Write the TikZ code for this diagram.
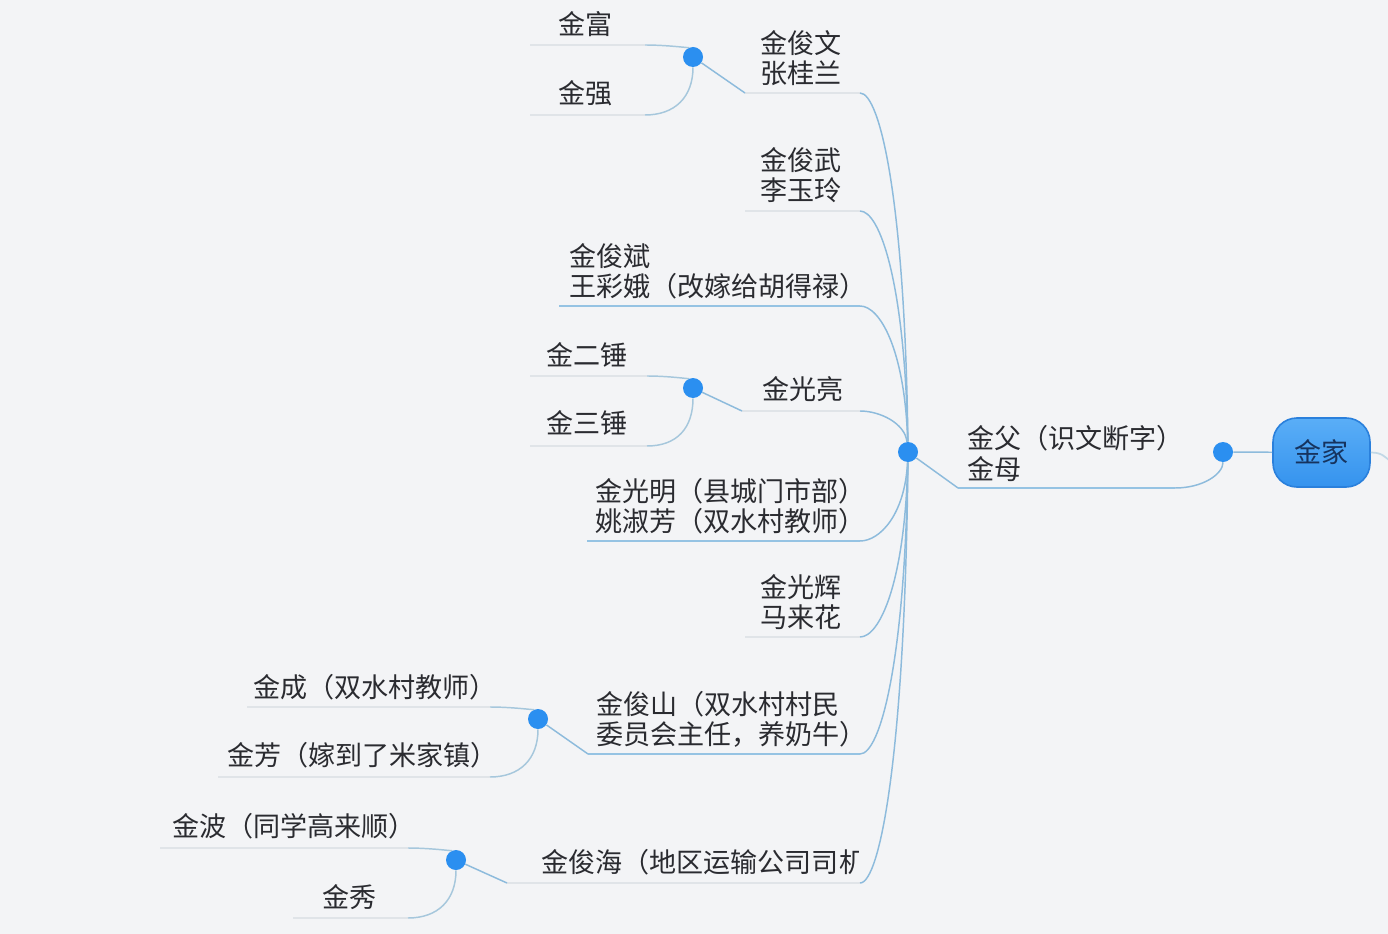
\documentclass[tikz,border=0pt]{standalone}
\usepackage{fontspec}
\usepackage{xcolor}
\usepackage{tikz}
\newfontfamily\cjk{Noto Sans CJK SC}
\definecolor{bg}{HTML}{F3F4F6}
\definecolor{ink}{HTML}{2A2B30}
\definecolor{dotblue}{HTML}{2B8FF0}
\definecolor{link}{HTML}{8DBBDC}
\definecolor{twig}{HTML}{A6C7DC}
\definecolor{ulblue}{HTML}{95C3E3}
\definecolor{ulgrey}{HTML}{E0E4E8}
\definecolor{rootlite}{HTML}{5AAEF7}
\definecolor{rootfill}{HTML}{3593EE}
\definecolor{rootedge}{HTML}{2A80DC}
\definecolor{rootink}{HTML}{16335E}
\tikzset{
  person/.style={inner sep=0pt, anchor=west, align=left, text=ink,
    font=\cjk\fontsize{20.3pt}{22.6pt}\selectfont},
  root/.style={rounded corners=18pt, draw=rootedge, line width=1.2pt,
    top color=rootlite, bottom color=rootfill, minimum width=72.75pt,
    minimum height=51.75pt, inner sep=0pt, text=rootink,
    font=\cjk\fontsize{20.3pt}{22.6pt}\selectfont},
  knot/.style={circle, fill=dotblue, inner sep=0pt, minimum size=15pt},
  link/.style={color=link, line width=1.1pt},
  twiglink/.style={color=twig, line width=1.1pt},
  ulb/.style={color=ulblue, line width=1.3pt},
  ulg/.style={color=ulgrey, line width=1.3pt},
}
\begin{document}
\begin{tikzpicture}[x=0.75pt,y=-0.75pt]
  \fill[bg] (0,0) rectangle (1388,934);
  \useasboundingbox (0,0) rectangle (1388,934);

  % root and parents
  \node[root] (jia) at (1321.5,452.5) {金家};
  \node[knot] (d-jia) at (1223,452) {};
  \node[person] (fumu) at (967,453.5) {金父（识文断字）\\金母};
  \coordinate (fumu-l) at (958,488);
  \coordinate (fumu-r) at (1175,488);
  \node[knot] (d-fumu) at (908,452) {};
  \coordinate (off) at (1392,462);

  % second generation
  \node[person] (wen) at (760,58) {金俊文\\张桂兰};
  \coordinate (wen-l) at (745,93);    \coordinate (wen-r) at (860,93);
  \node[person] (wu) at (760,175) {金俊武\\李玉玲};
  \coordinate (wu-l) at (745,211);    \coordinate (wu-r) at (860,211);
  \node[person] (bin) at (569,271) {金俊斌\\王彩娥（改嫁给胡得禄）};
  \coordinate (bin-l) at (559,306);   \coordinate (bin-r) at (860,306);
  \node[person] (liang) at (762,389) {金光亮};
  \coordinate (liang-l) at (742,411); \coordinate (liang-r) at (860,411);
  \node[person] (ming) at (595,506.5) {金光明（县城门市部）\\姚淑芳（双水村教师）};
  \coordinate (ming-l) at (587,541);  \coordinate (ming-r) at (860,541);
  \node[person] (hui) at (760,602) {金光辉\\马来花};
  \coordinate (hui-l) at (745,637);   \coordinate (hui-r) at (860,637);
  \node[person] (shan) at (596,719) {金俊山（双水村村民\\委员会主任，养奶牛）};
  \coordinate (shan-l) at (588,754);  \coordinate (shan-r) at (860,754);
  \begin{scope}
    \clip (500,830) rectangle (858,900);
    \node[person] (hai) at (541,862) {金俊海（地区运输公司司机};
  \end{scope}
  \coordinate (hai-l) at (507,883);   \coordinate (hai-r) at (860,883);

  % dots of the second generation
  \node[knot] (d-wen) at (693,57) {};
  \node[knot] (d-liang) at (693,388) {};
  \node[knot] (d-shan) at (538,719) {};
  \node[knot] (d-hai) at (456,860) {};

  % third generation
  \node[person] (fu) at (558,24) {金富};
  \coordinate (fu-l) at (530,45);      \coordinate (fu-r) at (645,45);
  \node[person] (qiang) at (558,93) {金强};
  \coordinate (qiang-l) at (530,115);  \coordinate (qiang-r) at (645,115);
  \node[person] (erchui) at (546,355) {金二锤};
  \coordinate (erchui-l) at (530,376); \coordinate (erchui-r) at (647,376);
  \node[person] (sanchui) at (546,423) {金三锤};
  \coordinate (sanchui-l) at (530,446); \coordinate (sanchui-r) at (647,446);
  \node[person] (cheng) at (253,687) {金成（双水村教师）};
  \coordinate (cheng-l) at (247,707);  \coordinate (cheng-r) at (490,707);
  \node[person] (fang) at (227,755) {金芳（嫁到了米家镇）};
  \coordinate (fang-l) at (218,777);   \coordinate (fang-r) at (490,777);
  \node[person] (bo) at (172,826) {金波（同学高来顺）};
  \coordinate (bo-l) at (160,848);     \coordinate (bo-r) at (408,848);
  \node[person] (xiu) at (322,897.5) {金秀};
  \coordinate (xiu-l) at (293,918);    \coordinate (xiu-r) at (408,918);

  % underlines
  \foreach \n in {fumu,bin,ming,shan}
    \draw[ulb] (\n-l) -- (\n-r);
  \foreach \n in {wen,wu,liang,hui,hai,fu,qiang,erchui,sanchui,cheng,fang,bo,xiu}
    \draw[ulg] (\n-l) -- (\n-r);

  % connectors
  \draw[link] (jia) -- (d-jia);
  \draw[ulg, color=twig!70] (jia.east) .. controls +(12,0) and +(-8,-5) .. (off);
  \draw[link] (d-jia) .. controls +(0,22) and +(28,0) .. (fumu-r);
  \draw[link] (fumu-l) -- (d-fumu);
  \foreach \n/\y in {wen/93,wu/211,bin/306,liang/411,ming/541,hui/637,shan/754,hai/883}
    \draw[link] (d-fumu) .. controls +(-3,{0.7*(\y-452)}) and +(20,0) .. (\n-r);
  \foreach \d/\a/\b in {wen/fu/qiang,liang/erchui/sanchui,shan/cheng/fang,hai/bo/xiu} {
    \draw[link] (d-\d) -- (\d-l);
    \draw[twiglink] (d-\d) .. controls +(-4,-9) and +(22,0) .. (\a-r);
    \draw[twiglink] (d-\d) .. controls +(0,40) and +(30,0) .. (\b-r);
  }
\end{tikzpicture}
\end{document}
